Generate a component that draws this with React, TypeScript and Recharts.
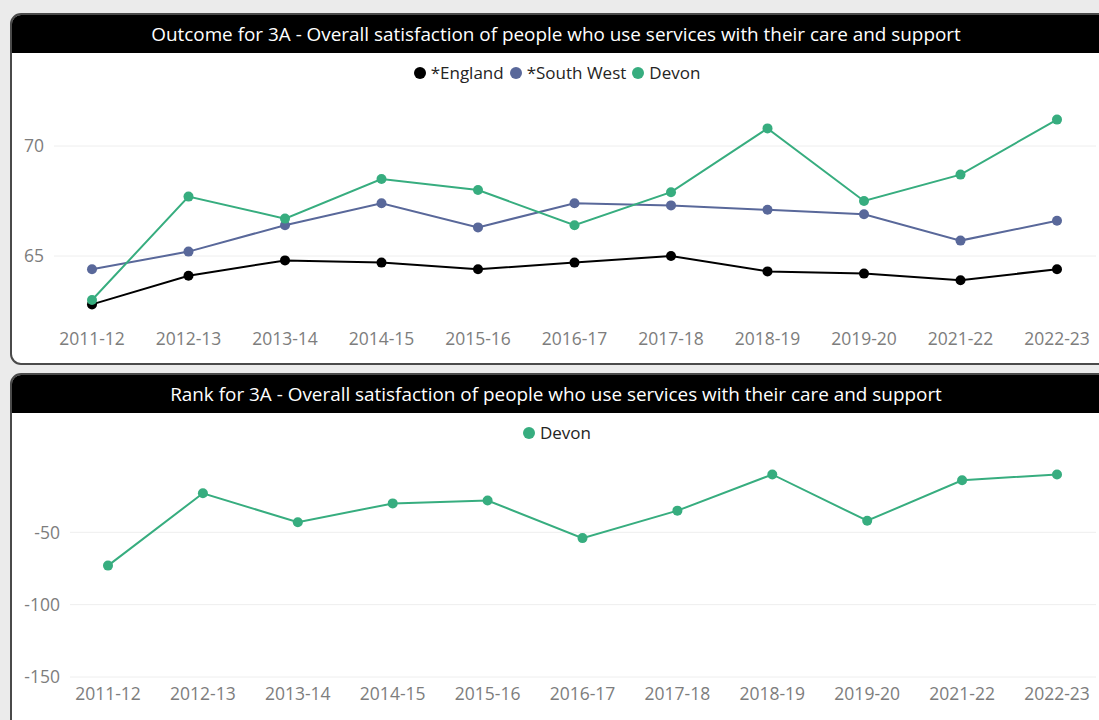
import React from 'react';
import { LineChart, Line, XAxis, YAxis, CartesianGrid } from 'recharts';

const years = ['2011-12', '2012-13', '2013-14', '2014-15', '2015-16', '2016-17', '2017-18', '2018-19', '2019-20', '2021-22', '2022-23'];
const england = [62.8, 64.1, 64.8, 64.7, 64.4, 64.7, 65.0, 64.3, 64.2, 63.9, 64.4];
const southWest = [64.4, 65.2, 66.4, 67.4, 66.3, 67.4, 67.3, 67.1, 66.9, 65.7, 66.6];
const devon = [63.0, 67.7, 66.7, 68.5, 68.0, 66.4, 67.9, 70.8, 67.5, 68.7, 71.2];
const devonRank = [-73, -23, -43, -30, -28, -54, -35, -10, -42, -14, -10];

const outcomeTicks = [65, 70];
const rankTicks = [-150, -100, -50];

const outcomeTitle = 'Outcome for 3A - Overall satisfaction of people who use services with their care and support';
const rankTitle = 'Rank for 3A - Overall satisfaction of people who use services with their care and support';

const COL_ENG = '#000000';
const COL_SW = '#59689a';
const COL_DEVON = '#37ad7f';

const FONT = '"Open Sans", "Noto Sans", sans-serif';

const outcomeData = years.map((y, i) => ({ year: y, england: england[i], southWest: southWest[i], devon: devon[i] }));
const rankData = years.map((y, i) => ({ year: y, devon: devonRank[i] }));

const tickStyle = { fill: '#7d7d7d', fontSize: 17.5, fontFamily: FONT };

function LegendRow({ items }: { items: { label: string; color: string }[] }) {
  return (
    <div style={{ position: 'absolute', top: 8, left: 0, width: '100%', display: 'flex', justifyContent: 'center', fontFamily: FONT, fontSize: 17, color: '#252423' }}>
      {items.map((it) => (
        <div key={it.label} style={{ display: 'flex', alignItems: 'center', marginRight: 6 }}>
          <span style={{ display: 'inline-block', width: 12, height: 12, borderRadius: '50%', background: it.color, marginRight: 5 }} />
          <span>{it.label}</span>
        </div>
      ))}
    </div>
  );
}

function Panel({ top, height, title, children }: { top: number; height: number; title: string; children: React.ReactNode }) {
  return (
    <div style={{ position: 'absolute', left: 10, top, width: 1100, height, border: '2px solid #4a4a4a', borderRadius: 11, background: '#ffffff', overflow: 'hidden', boxSizing: 'border-box' }}>
      <div style={{ height: 38, background: '#000', color: '#fff', fontFamily: FONT, fontSize: 18.9, display: 'flex', alignItems: 'center', justifyContent: 'center', paddingRight: 8 }}>
        {title}
      </div>
      <div style={{ position: 'relative' }}>{children}</div>
    </div>
  );
}

export default function App() {
  return (
    <div style={{ position: 'absolute', left: 0, top: 0, width: 1099, height: 720, background: '#ebebeb', overflow: 'hidden' }}>
      <Panel top={13} height={352} title={outcomeTitle}>
        <LegendRow items={[{ label: '*England', color: COL_ENG }, { label: '*South West', color: COL_SW }, { label: 'Devon', color: COL_DEVON }]} />
        <LineChart width={1098} height={310} data={outcomeData} margin={{ top: 49, right: 14, bottom: 11, left: 0 }}>
          <CartesianGrid vertical={false} stroke="#eeeeee" horizontalValues={outcomeTicks} />
          <XAxis dataKey="year" axisLine={false} tickLine={false} tickSize={0} tickMargin={11} height={30} padding={{ left: 38, right: 39 }} tick={tickStyle} interval={0} />
          <YAxis domain={[62, 72]} ticks={outcomeTicks} axisLine={false} tickLine={false} tickSize={0} tickMargin={10} width={42} tick={tickStyle} />
          <Line dataKey="england" stroke={COL_ENG} strokeWidth={2} dot={{ r: 5, fill: COL_ENG, stroke: COL_ENG, strokeWidth: 0 }} isAnimationActive={false} />
          <Line dataKey="southWest" stroke={COL_SW} strokeWidth={2} dot={{ r: 5, fill: COL_SW, stroke: COL_SW, strokeWidth: 0 }} isAnimationActive={false} />
          <Line dataKey="devon" stroke={COL_DEVON} strokeWidth={2} dot={{ r: 5, fill: COL_DEVON, stroke: COL_DEVON, strokeWidth: 0 }} isAnimationActive={false} />
        </LineChart>
      </Panel>
      <Panel top={373} height={360} title={rankTitle}>
        <LegendRow items={[{ label: 'Devon', color: COL_DEVON }]} />
        <LineChart width={1098} height={310} data={rankData} margin={{ top: 47, right: 14, bottom: 16, left: 0 }}>
          <CartesianGrid vertical={false} stroke="#eeeeee" horizontalValues={rankTicks} />
          <XAxis dataKey="year" axisLine={false} tickLine={false} tickSize={0} tickMargin={11} height={30} padding={{ left: 38, right: 39 }} tick={tickStyle} interval={0} />
          <YAxis domain={[-150, 0]} ticks={rankTicks} axisLine={false} tickLine={false} tickSize={0} tickMargin={10} width={58} tick={tickStyle} />
          <Line dataKey="devon" stroke={COL_DEVON} strokeWidth={2} dot={{ r: 5, fill: COL_DEVON, stroke: COL_DEVON, strokeWidth: 0 }} isAnimationActive={false} />
        </LineChart>
      </Panel>
    </div>
  );
}
